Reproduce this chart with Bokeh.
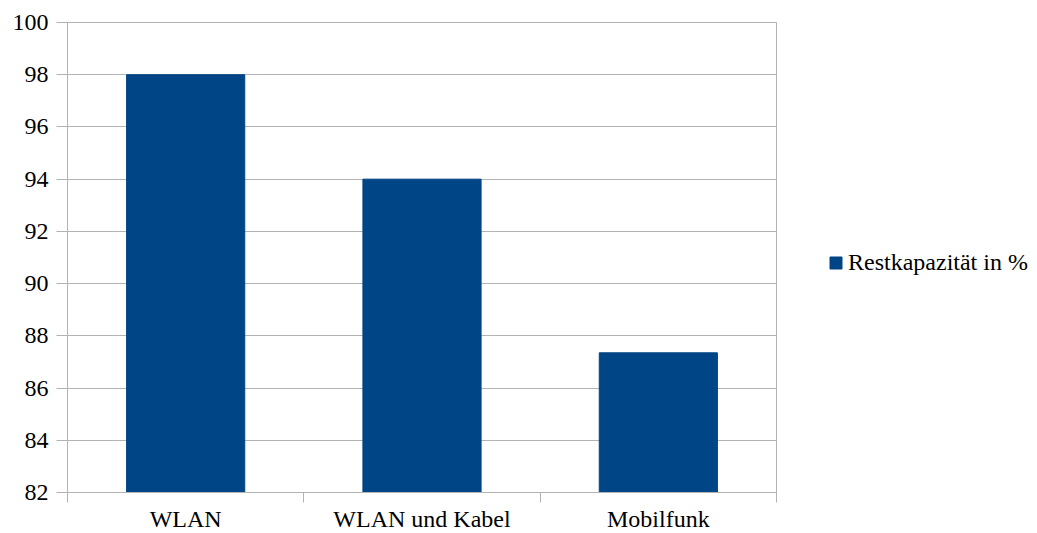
from bokeh.plotting import figure
from bokeh.models import FixedTicker, Range1d, Legend, LegendItem, ColumnDataSource
from bokeh.embed import file_html
from bokeh.resources import INLINE

categories = ["WLAN", "WLAN und Kabel", "Mobilfunk"]
values = [98.0, 94.0, 87.35]
y_ticks = [82, 84, 86, 88, 90, 92, 94, 96, 98, 100]
series_name = "Restkapazität in %"

FONT = "Liberation Serif"
GRID = "#b3b3b3"
BAR = "#004586"

xs = [i + 0.5 for i in range(len(categories))]
src = ColumnDataSource(dict(x=xs, top=values, cat=categories))

p = figure(frame_width=709, frame_height=470, output_backend="svg", toolbar_location=None,
           x_range=Range1d(0, len(categories)), y_range=Range1d(82, 100),
           min_border_left=67, min_border_right=0, min_border_top=22, min_border_bottom=41)
p.background_fill_color = "white"
p.border_fill_color = "white"
p.outline_line_color = GRID

r = p.vbar(x="x", top="top", bottom=82, width=0.5, source=src,
           fill_color=BAR, line_color=BAR)

# x axis: labels at centres, tick marks at category boundaries
xa = p.xaxis[0]
xa.ticker = FixedTicker(ticks=xs, minor_ticks=list(range(len(categories) + 1)))
xa.major_label_overrides = {x: c for x, c in zip(xs, categories)}
xa.major_tick_out = 0
xa.major_tick_in = 0
xa.minor_tick_out = 10
xa.minor_tick_in = 0
xa.minor_tick_line_color = GRID
xa.axis_line_color = GRID
xa.major_label_text_font = FONT
xa.major_label_text_font_size = "24px"
xa.major_label_text_color = "black"
xa.major_label_standoff = 3

ya = p.yaxis[0]
ya.ticker = FixedTicker(ticks=y_ticks)
ya.major_tick_out = 11
ya.major_tick_in = 0
ya.minor_tick_out = 0
ya.minor_tick_in = 0
ya.major_tick_line_color = GRID
ya.axis_line_color = GRID
ya.major_label_text_font = FONT
ya.major_label_text_font_size = "24px"
ya.major_label_text_color = "black"
ya.major_label_standoff = 8

p.xgrid.visible = False
p.ygrid.ticker = FixedTicker(ticks=y_ticks)
p.ygrid.grid_line_color = GRID

legend = Legend(items=[LegendItem(label=series_name, renderers=[r])],
                location=(52, 216), orientation="vertical")
legend.label_text_font = FONT
legend.label_text_font_size = "24px"
legend.label_text_color = "black"
legend.glyph_width = 15
legend.glyph_height = 15
legend.label_standoff = 5
legend.padding = 0
legend.margin = 0
legend.spacing = 0
legend.border_line_color = None
legend.background_fill_alpha = 0
p.add_layout(legend, "right")

open("out.html", "w").write(file_html(p, INLINE))
